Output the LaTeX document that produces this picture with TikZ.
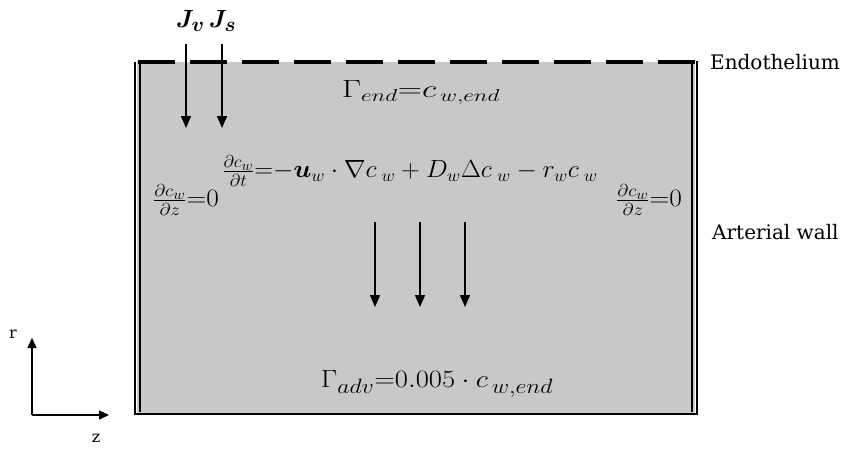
\documentclass[tikz,border=0pt]{standalone}
\usepackage{amsmath,bm}
\usepackage{fontspec}
\newfontfamily\labfont{DejaVu Serif}
\usetikzlibrary{arrows.meta}
\definecolor{wallgray}{RGB}{200,200,200}
\DeclareMathSizes{24}{24}{19}{14}
\DeclareMathSizes{27}{27}{21}{15}
\DeclareMathSizes{28}{28}{21}{16}
\begin{document}
\begin{tikzpicture}[x=1pt,y=-1pt,
  arr/.style={line width=1.7pt,-{Triangle[width=10pt,length=12pt]}},
  axarr/.style={line width=1.4pt,-{Triangle[width=9pt,length=10pt]}},
  eq/.style={inner sep=0pt, font=\fontsize{24}{28}\selectfont},
  lab/.style={inner sep=0pt, anchor=west, font=\labfont\fontsize{20}{24}\selectfont}]
\useasboundingbox (0,0) rectangle (845,450);
% wall
\fill[wallgray] (137,62) rectangle (695,413);
\draw[line width=1.6pt] (135,62) -- (135,414);
\draw[line width=1.1pt] (140,64) -- (140,412);
\draw[line width=1.1pt] (692,64) -- (692,412);
\draw[line width=1.6pt] (697,61) -- (697,414);
\draw[line width=2.6pt] (134,414) -- (698,414);
\draw[line width=4pt, dash pattern=on 37pt off 15pt] (138,62) -- (698,62);
% flux arrows
\coordinate (jv1) at (186,44); \coordinate (jv2) at (186,128);
\coordinate (js1) at (222,44); \coordinate (js2) at (222,128);
\draw[arr] (jv1) -- (jv2);
\draw[arr] (js1) -- (js2);
\node[inner sep=0pt, font=\fontsize{27}{30}\selectfont] (J) at (206,21) {$\bm{J_v\,J_s}$};
% boundary conditions
\node[eq] (gend) at (421,93) {\scalebox{1.35}[1]{$\Gamma_{end}{=}c_{\,w,end}$}};
\node[eq] (main) at (410,171) {\scalebox{1.05}[1]{$\frac{\partial c_w}{\partial t}{=}{-}\bm{u}_w\cdot\nabla c_{\;w}+D_w\Delta c_{\;w}-r_w c_{\;w}$}};
\node[eq] (bl) at (186,200) {\scalebox{1.1}[1]{$\frac{\partial c_w}{\partial z}{=}0$}};
\node[eq] (br) at (649,200) {\scalebox{1.1}[1]{$\frac{\partial c_w}{\partial z}{=}0$}};
\node[eq, font=\fontsize{28}{32}\selectfont] (gadv) at (437,384) {\scalebox{1.15}[1]{$\Gamma_{adv}{=}0.005\cdot c_{\,w,end}$}};
% convection arrows
\foreach \i/\x in {a/375,b/420,c/465}{
  \coordinate (\i1) at (\x,222); \coordinate (\i2) at (\x,307);
  \draw[arr] (\i1) -- (\i2);
}
% labels
\node[lab] (endo) at (710,62) {Endothelium};
\node[lab] (art) at (712,232) {Arterial wall};
% axes
\coordinate (o) at (32,415);
\coordinate (rt) at (32,338);
\coordinate (zt) at (109,415);
\draw[axarr] (o) -- (rt);
\draw[axarr] (o) -- (zt);
\node[inner sep=0pt, font=\labfont\fontsize{16}{20}\selectfont] (r) at (13,334) {r};
\node[inner sep=0pt, font=\labfont\fontsize{16}{20}\selectfont] (z) at (96,438) {z};
\end{tikzpicture}
\end{document}
